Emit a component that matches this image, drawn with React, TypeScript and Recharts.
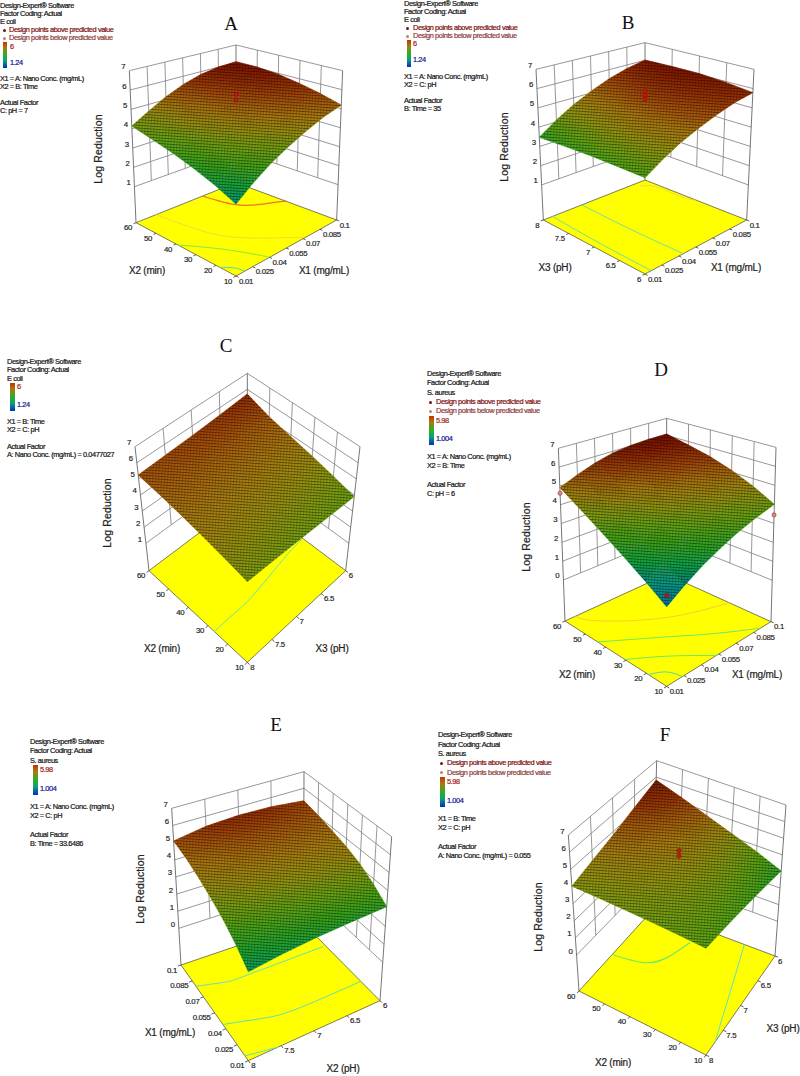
import { ScatterChart, Scatter, XAxis, YAxis } from "recharts";

// tick values
const conc = [0.01, 0.025, 0.04, 0.055, 0.07, 0.085, 0.1];
const time = [10, 20, 30, 40, 50, 60];
const phUp = [6, 6.5, 7, 7.5, 8];
const phDown = [8, 7.5, 7, 6.5, 6];
const zFrom1 = [1, 2, 3, 4, 5, 6, 7];
const zFrom0 = [0, 1, 2, 3, 4, 5, 6, 7];

// log reduction read per tick crossing, rows follow the left floor axis
const surfaceA = [
  [2.57, 3.2, 3.75, 4.2, 4.6, 4.95, 5.19],
  [3.0, 3.6, 4.15, 4.6, 5.0, 5.3, 5.5],
  [3.35, 3.95, 4.5, 4.95, 5.3, 5.6, 5.75],
  [3.65, 4.2, 4.75, 5.2, 5.55, 5.8, 5.95],
  [3.9, 4.45, 5.0, 5.4, 5.7, 5.95, 6.05],
  [4.14, 4.65, 5.15, 5.55, 5.85, 6.0, 6.05],
];
const surfaceB = [
  [3.79, 4.3, 4.75, 5.1, 5.4, 5.65, 5.79],
  [3.75, 4.35, 4.85, 5.25, 5.55, 5.8, 5.95],
  [3.7, 4.35, 4.85, 5.3, 5.65, 5.9, 6.05],
  [3.6, 4.25, 4.8, 5.25, 5.6, 5.9, 6.05],
  [3.47, 4.1, 4.65, 5.1, 5.5, 5.8, 6.01],
];
const surfaceC = [
  [4.14, 4.1, 4.05, 3.98, 3.9],
  [4.4, 4.38, 4.35, 4.3, 4.25],
  [4.65, 4.65, 4.62, 4.6, 4.58],
  [4.88, 4.9, 4.9, 4.88, 4.88],
  [5.08, 5.13, 5.15, 5.17, 5.2],
  [5.24, 5.33, 5.42, 5.55, 5.71],
];
const surfaceD = [
  [1.74, 2.3, 2.8, 3.2, 3.55, 3.8, 4.0],
  [2.4, 2.9, 3.35, 3.75, 4.1, 4.35, 4.6],
  [3.03, 3.5, 3.9, 4.3, 4.6, 4.85, 5.1],
  [3.65, 4.05, 4.45, 4.8, 5.1, 5.3, 5.5],
  [4.28, 4.65, 5.0, 5.35, 5.6, 5.75, 5.8],
  [4.91, 5.3, 5.65, 5.9, 6.03, 6.08, 6.08],
];
const surfaceE = [
  [2.46, 2.7, 2.88, 3.0, 3.1],
  [3.1, 3.3, 3.45, 3.6, 3.7],
  [3.65, 3.85, 4.0, 4.12, 4.2],
  [4.1, 4.3, 4.42, 4.52, 4.55],
  [4.5, 4.68, 4.8, 4.83, 4.8],
  [4.85, 5.05, 5.12, 5.1, 5.05],
  [5.1, 5.4, 5.5, 5.45, 5.25],
];
const surfaceF = [
  [3.56, 3.5, 3.4, 3.25, 3.03],
  [3.68, 3.75, 3.78, 3.75, 3.65],
  [3.78, 3.95, 4.1, 4.2, 4.2],
  [3.87, 4.12, 4.35, 4.6, 4.75],
  [3.95, 4.27, 4.6, 4.95, 5.3],
  [4.02, 4.4, 4.8, 5.3, 5.82],
];

// floor contours as [right axis value, left axis value]
const contoursA = [
  { color: "#e87818", width: 1.3, pts: [[0.07, 60], [0.072, 53.5], [0.0757, 46.5], [0.0847, 41], [0.0973, 36.5], [0.1, 35]] },
  { color: "#f0d040", width: 0.8, pts: [[0.028, 60], [0.034, 41.5], [0.045, 27.7], [0.066, 14.2], [0.071, 10]] },
  { color: "#80e850", width: 1, pts: [[0.01, 39], [0.025, 28], [0.036, 16], [0.04, 10]] },
  { color: "#50d8a0", width: 1, pts: [[0.01, 18], [0.0157, 14.5], [0.018, 10]] },
];
const contoursB = [
  { color: "#f0d040", width: 0.8, pts: [[0.091, 7.9], [0.0975, 7.7], [0.0975, 7.2], [0.1, 7]] },
  { color: "#70e0a0", width: 1, pts: [[0.044, 8], [0.043, 7], [0.044, 6]] },
  { color: "#70e0a0", width: 1, pts: [[0.018, 8], [0.016, 7], [0.0155, 6]] },
];
const contoursC = [
  { color: "#60e8a0", width: 1, pts: [[8, 26.8], [7.6, 27], [7.18, 27.5], [6.45, 30.5], [6.02, 31.8]] },
];
const contoursD = [
  { color: "#f0c040", width: 0.8, pts: [[0.019, 60], [0.0275, 52.75], [0.0613, 39], [0.1, 30]] },
  { color: "#70e860", width: 1, pts: [[0.01, 44], [0.028, 37.5], [0.0457, 30.4], [0.0685, 20], [0.091, 10]] },
  { color: "#70e860", width: 1, pts: [[0.01, 30.5], [0.0316, 22], [0.053, 10]] },
  { color: "#50d8b0", width: 1, pts: [[0.01, 19], [0.02, 15.7], [0.0235, 10]] },
];
const contoursE = [
  { color: "#60e0b0", width: 1, pts: [[8, 0.08], [7.6, 0.075], [7.26, 0.074], [6.04, 0.074]] },
  { color: "#60e0b0", width: 1, pts: [[8, 0.044], [7.52, 0.037], [7.04, 0.0325], [6, 0.0325]] },
  { color: "#60e0b0", width: 1, pts: [[8, 0.0145], [7.55, 0.01]] },
];
const contoursF = [
  { color: "#70e860", width: 1.2, pts: [[7.1, 60], [7, 49], [6.74, 43.25], [6.32, 40]] },
  { color: "#60e0c8", width: 1, pts: [[7.74, 10], [6.87, 16], [6, 22.5]] },
];

// design points as [right axis value, left axis value, log reduction]
const aboveA = [[0.055, 35, 5.96], [0.055, 35, 5.66]];
const aboveB = [[0.055, 7, 6.08], [0.055, 7, 5.86], [0.055, 7, 5.65]];
const aboveD = [[0.01, 10, 2.29]];
const belowD = [[0.01, 60, 4.61], [0.1, 10, 3.44]];
const aboveF = [[7, 35, 5.28], [7, 35, 4.97]];

const designEcoli = ["Design-Expert® Software", "Factor Coding: Actual", "E coli"];
const designAureus = ["Design-Expert® Software", "Factor Coding: Actual", "S. aureus"];
const FONT = "'Liberation Sans', Arial, sans-serif";

type Pt = [number, number];

const panels = [
  {
    key: "A", left: 0, top: 0, h: 320, zBase: -0.86, tone: 0, u: conc, v: time, zt: zFrom1, grid: surfaceA, contours: contoursA, above: aboveA, below: [],
    floor: { f: [708, 828], r: [1010, 660], l: [408, 668], b: [708, 548] },
    roof: { f: [708, 333], r: [1028, 212], l: [388, 212], b: [708, 135] },
    vTitle: "X2 (min)", uTitle: "X1 (mg/mL)", vAt: [147, 271], uAt: [324, 271], logAt: [98, 149], letterAt: [231, 23],
    legend: {
      x: 0, head: designEcoli, headY: [6, 14, 22], marks: [30, 38], markX: 4, markTextX: 9,
      bar: [3, 42, 4, 26], hi: "6", lo: "1.24", hiY: 47, loY: 63, barTextX: 10,
      factors: ["X1 = A: Nano Conc. (mg/mL)", "X2 = B: Time"], factorY: [79, 87],
      actual: ["Actual Factor", "C: pH = 7"], actualY: [103, 111],
    },
  },
  {
    key: "B", left: 400, top: 0, h: 320, zBase: -0.82, tone: 0, u: conc, v: phUp, zt: zFrom1, grid: surfaceB, contours: contoursB, above: aboveB, below: [],
    floor: { f: [735, 822], r: [1040, 660], l: [430, 660], b: [735, 540] },
    roof: { f: [735, 332], r: [1062, 208], l: [408, 208], b: [735, 128] },
    vTitle: "X3 (pH)", uTitle: "X1 (mg/mL)", vAt: [555, 268], uAt: [736, 268], logAt: [504, 147], letterAt: [628, 22],
    legend: {
      x: 404, head: designEcoli, headY: [4, 12, 20], marks: [28, 36], markX: 407, markTextX: 413,
      bar: [407, 40, 4, 27], hi: "6", lo: "1.24", hiY: 44, loY: 60, barTextX: 413,
      factors: ["X1 = A: Nano Conc. (mg/mL)", "X2 = C: pH"], factorY: [77, 85],
      actual: ["Actual Factor", "B: Time = 35"], actualY: [101, 109],
    },
  },
  {
    key: "C", left: 0, top: 330, h: 346, zBase: -0.7, tone: 0.12, u: phDown, v: time, zt: zFrom1, grid: surfaceC, contours: contoursC, above: [], below: [],
    floor: { f: [742, 997], r: [1037, 722], l: [447, 722], b: [742, 500] },
    roof: { f: [742, 612], r: [1080, 350], l: [405, 350], b: [742, 130] },
    vTitle: "X2 (min)", uTitle: "X3 (pH)", vAt: [162, 649], uAt: [332, 649], logAt: [107, 513], letterAt: [226, 345],
    legend: {
      x: 7, head: designEcoli, headY: [362, 370, 379], marks: [], markX: 0, markTextX: 0,
      bar: [10, 383, 5, 28], hi: "6", lo: "1.24", hiY: 387, loY: 404.5, barTextX: 17,
      factors: ["X1 = B: Time", "X2 = C: pH"], factorY: [422, 430],
      actual: ["Actual Factor", "A: Nano Conc. (mg/mL) = 0.0477027"], actualY: [447, 455],
    },
  },
  {
    key: "D", left: 400, top: 340, h: 370, zBase: -2.18, tone: 0.1, u: conc, v: time, zt: zFrom0, grid: surfaceD, contours: contoursD, above: aboveD, below: belowD,
    floor: { f: [800, 1039], r: [1113, 845], l: [495, 843], b: [800, 703] },
    roof: { f: [800, 480], r: [1128, 322], l: [475, 325], b: [800, 235] },
    vTitle: "X2 (min)", uTitle: "X1 (mg/mL)", vAt: [577, 675], uAt: [757, 675], logAt: [526, 537], letterAt: [661, 369],
    legend: {
      x: 427, head: designAureus, headY: [374, 383, 392.5], marks: [402, 411], markX: 430, markTextX: 436,
      bar: [429, 416, 5, 29], hi: "5.98", lo: "1.004", hiY: 421, loY: 439, barTextX: 436,
      factors: ["X1 = A: Nano Conc. (mg/mL)", "X2 = B: Time"], factorY: [457, 466],
      actual: ["Actual Factor", "C: pH = 6"], actualY: [484.5, 494],
    },
  },
  {
    key: "E", left: 0, top: 710, h: 366, zBase: -2.14, tone: 0.28, u: phDown, v: conc, zt: zFrom0, grid: surfaceE, contours: contoursE, above: [], below: [],
    floor: { f: [745, 1052], r: [1140, 872], l: [543, 765], b: [910, 640] },
    roof: { f: [745, 522], r: [1175, 380], l: [515, 295], b: [912, 185] },
    vTitle: "X1 (mg/mL)", uTitle: "X2 (pH)", vAt: [170, 1033], uAt: [343, 1069], logAt: [140, 889], letterAt: [276, 724],
    legend: {
      x: 30, head: designAureus, headY: [742, 751, 760.5], marks: [], markX: 0, markTextX: 0,
      bar: [33, 765, 5, 30], hi: "5.98", lo: "1.004", hiY: 770, loY: 788.5, barTextX: 40,
      factors: ["X1 = A: Nano Conc. (mg/mL)", "X2 = C: pH"], factorY: [807, 816],
      actual: ["Actual Factor", "B: Time = 33.6486"], actualY: [835, 844],
    },
  },
  {
    key: "F", left: 400, top: 710, h: 366, zBase: -2.09, tone: 0.35, u: phDown, v: time, zt: zFrom0, grid: surfaceF, contours: contoursF, above: aboveF, below: [],
    floor: { f: [918, 1035], r: [1125, 738], l: [537, 843], b: [758, 600] },
    roof: { f: [918, 520], r: [1158, 285], l: [505, 375], b: [770, 152] },
    vTitle: "X2 (min)", uTitle: "X3 (pH)", vAt: [613, 1063], uAt: [783, 1029], logAt: [538, 917], letterAt: [665, 734],
    legend: {
      x: 438, head: designAureus, headY: [735, 745, 754], marks: [763, 772.5], markX: 441, markTextX: 447,
      bar: [440, 777, 5, 30], hi: "5.98", lo: "1.004", hiY: 782, loY: 801, barTextX: 447,
      factors: ["X1 = B: Time", "X2 = C: pH"], factorY: [819, 828],
      actual: ["Actual Factor", "A: Nano Conc. (mg/mL) = 0.055"], actualY: [847, 856],
    },
  },
];

// colour ramp of the surface by log reduction
const ramp: [number, number[]][] = [
  [1.75, [0, 80, 180]],
  [2.05, [0, 144, 192]],
  [2.5, [8, 165, 130]],
  [3.0, [16, 172, 64]],
  [3.5, [56, 172, 24]],
  [4.0, [108, 172, 18]],
  [4.5, [156, 156, 16]],
  [5.0, [180, 128, 16]],
  [5.5, [172, 74, 8]],
  [6.0, [140, 26, 0]],
  [6.3, [96, 10, 0]],
];

function rampColor(z: number) {
  if (z <= ramp[0][0]) return `rgb(${ramp[0][1].join(",")})`;
  for (let i = 1; i < ramp.length; i++) {
    if (z <= ramp[i][0]) {
      const k = (z - ramp[i - 1][0]) / (ramp[i][0] - ramp[i - 1][0]);
      const c = ramp[i][1].map((n, j) => Math.round(ramp[i - 1][1][j] + (n - ramp[i - 1][1][j]) * k));
      return `rgb(${c.join(",")})`;
    }
  }
  return `rgb(${ramp[ramp.length - 1][1].join(",")})`;
}

const frac = (ticks: number[], val: number) =>
  (val - ticks[0]) / (ticks[ticks.length - 1] - ticks[0]);

function bilerp(q: any, s: number, t: number): Pt {
  const at = (i: number) =>
    q.f[i] * (1 - s) * (1 - t) + q.r[i] * s * (1 - t) + q.l[i] * (1 - s) * t + q.b[i] * s * t;
  return [at(0), at(1)];
}

// box projection, returns the position in the panel's data space
function project(p: any, s: number, t: number, z: number) {
  const h = (z - p.zBase) / (7 - p.zBase);
  const a = bilerp(p.floor, s, t);
  const b = bilerp(p.roof, s, t);
  return { x: a[0] + (b[0] - a[0]) * h, y: a[1] + (b[1] - a[1]) * h };
}

const Nothing = () => <g />;

function segmentLine(stroke: string, width: number) {
  return (props: any) => {
    let d = "";
    for (let i = 0; i + 1 < props.points.length; i += 2) {
      const a = props.points[i];
      const b = props.points[i + 1];
      d += `M${a.x} ${a.y}L${b.x} ${b.y}`;
    }
    return <path d={d} stroke={stroke} strokeWidth={width} fill="none" />;
  };
}

function surfaceLine(p: any) {
  const nv = p.grid.length;
  const nu = p.grid[0].length;
  return (props: any) => {
    const pts = props.points;
    const defs: any[] = [];
    const quads: any[] = [];
    for (let r = nv - 2; r >= 0; r--) {
      for (let c = nu - 2; c >= 0; c--) {
        const i00 = r * nu + c;
        const i10 = i00 + 1;
        const i01 = i00 + nu;
        const i11 = i01 + 1;
        const [a, b, d, e] = [pts[i00], pts[i10], pts[i01], pts[i11]];
        const z00 = p.grid[r][c];
        const z10 = p.grid[r][c + 1];
        const z01 = p.grid[r + 1][c];
        const z11 = p.grid[r + 1][c + 1];
        const zc = (z00 + z10 + z01 + z11) / 4;
        const e1x = (b.x + e.x - a.x - d.x) / 2;
        const e1y = (b.y + e.y - a.y - d.y) / 2;
        const e2x = (d.x + e.x - a.x - b.x) / 2;
        const e2y = (d.y + e.y - a.y - b.y) / 2;
        const dz1 = (z10 + z11 - z00 - z01) / 2;
        const dz2 = (z01 + z11 - z00 - z10) / 2;
        const det = e1x * e2y - e1y * e2x;
        const gx = (dz1 * e2y - dz2 * e1y) / det;
        const gy = (e1x * dz2 - e2x * dz1) / det;
        const g2 = gx * gx + gy * gy;
        const span = Math.max(Math.abs(z00 - z11), Math.abs(z10 - z01), 0.02);
        const cx = (a.x + b.x + d.x + e.x) / 4;
        const cy = (a.y + b.y + d.y + e.y) / 4;
        const id = `q${p.key}${r}-${c}`;
        defs.push(
          <linearGradient key={id} id={id} gradientUnits="userSpaceOnUse"
            x1={cx - (gx / g2) * span} y1={cy - (gy / g2) * span}
            x2={cx + (gx / g2) * span} y2={cy + (gy / g2) * span}>
            <stop offset="0" stopColor={rampColor(zc - span + p.tone)} />
            <stop offset="0.5" stopColor={rampColor(zc + p.tone)} />
            <stop offset="1" stopColor={rampColor(zc + span + p.tone)} />
          </linearGradient>
        );
        quads.push(
          <polygon key={id} points={`${a.x},${a.y} ${b.x},${b.y} ${e.x},${e.y} ${d.x},${d.y}`}
            fill={`url(#${id})`} stroke={`url(#${id})`} strokeWidth={0.7} />
        );
      }
    }
    // outline used for the fine mesh on top
    const rim: string[] = [];
    for (let c = 0; c < nu; c++) rim.push(`${pts[c].x},${pts[c].y}`);
    for (let r = 1; r < nv; r++) rim.push(`${pts[r * nu + nu - 1].x},${pts[r * nu + nu - 1].y}`);
    for (let c = nu - 2; c >= 0; c--) rim.push(`${pts[(nv - 1) * nu + c].x},${pts[(nv - 1) * nu + c].y}`);
    for (let r = nv - 2; r > 0; r--) rim.push(`${pts[r * nu].x},${pts[r * nu].y}`);
    return (
      <g>
        <defs>
          {defs}
          <pattern id={`mesh${p.key}`} width={3} height={2.8} patternUnits="userSpaceOnUse" patternTransform="rotate(4)">
            <rect x={0} y={0} width={3} height={1} fill="#000" opacity={0.42} />
            <rect x={0} y={0} width={1.2} height={2.8} fill="#000" opacity={0.2} />
          </pattern>
        </defs>
        {quads}
        <polygon points={rim.join(" ")} fill={`url(#mesh${p.key})`} />
      </g>
    );
  };
}

function wallSegments(p: any) {
  const zLow = p.zt[0];
  const out: { x: number; y: number }[] = [];
  const add = (a: any, b: any) => out.push(a, b);
  p.zt.forEach((z: number) => {
    add(project(p, 0, 1, z), project(p, 1, 1, z));
    add(project(p, 1, 0, z), project(p, 1, 1, z));
  });
  p.u.forEach((val: number, i: number) => {
    if (i === 0 || i === p.u.length - 1) return;
    const s = frac(p.u, val);
    add(project(p, s, 1, zLow), project(p, s, 1, 7));
  });
  p.v.forEach((val: number, i: number) => {
    if (i === 0 || i === p.v.length - 1) return;
    const t = frac(p.v, val);
    add(project(p, 1, t, zLow), project(p, 1, t, 7));
  });
  return out;
}

function cornerSegments(p: any) {
  return [
    project(p, 0, 1, p.zBase), project(p, 0, 1, 7),
    project(p, 1, 0, p.zBase), project(p, 1, 0, 7),
    project(p, 1, 1, p.zBase), project(p, 1, 1, 7),
  ];
}

function floorTicks(p: any) {
  const out: { x: number; y: number }[] = [];
  p.u.forEach((val: number) => {
    const s = frac(p.u, val);
    out.push(project(p, s, 0, p.zBase), project(p, s, -0.025, p.zBase));
  });
  p.v.forEach((val: number) => {
    const t = frac(p.v, val);
    out.push(project(p, 0, t, p.zBase), project(p, -0.025, t, p.zBase));
  });
  return out;
}

const tickText = (anchor: string, dx: number, dy: number) => (props: any) => (
  <text x={props.cx + dx} y={props.cy + dy} textAnchor={anchor} dominantBaseline="central"
    fontFamily={FONT} fontSize={7.8} letterSpacing={-0.3} fill="#1c1c1c" stroke="#1c1c1c" strokeWidth={0.18}>
    {props.payload.label}
  </text>
);

const dot = (fill: string) => (props: any) => (
  <circle cx={props.cx} cy={props.cy} r={2.1} fill={fill} stroke="#7a1010" strokeWidth={0.5} />
);

function Panel3D({ p }: { p: any }) {
  const H = p.h * 3;
  const vertices = p.grid.flatMap((row: number[], r: number) =>
    row.map((z, c) => project(p, frac(p.u, p.u[c]), frac(p.v, p.v[r]), z))
  );
  const floorData = [
    project(p, 0, 0, p.zBase),
    project(p, 1, 0, p.zBase),
    project(p, 1, 1, p.zBase),
    project(p, 0, 1, p.zBase),
  ];
  const uLabels = p.u.map((val: number) => ({ ...project(p, frac(p.u, val), 0, p.zBase), label: String(val) }));
  const vLabels = p.v.map((val: number) => ({ ...project(p, 0, frac(p.v, val), p.zBase), label: String(val) }));
  const zLabels = p.zt.map((z: number) => ({ ...project(p, 0, 1, z), label: String(z) }));
  const marks = (rows: number[][]) =>
    rows.map((m) => project(p, frac(p.u, m[0]), frac(p.v, m[1]), m[2]));

  return (
    <div style={{ position: "absolute", left: p.left, top: p.top }}>
      <ScatterChart width={400} height={p.h} margin={{ top: 0, right: 0, bottom: 0, left: 0 }} style={{ overflow: "visible" }}>
        <XAxis type="number" dataKey="x" domain={[0, 1200]} hide allowDataOverflow />
        <YAxis type="number" dataKey="y" domain={[0, H]} reversed hide allowDataOverflow />
        <Scatter data={wallSegments(p)} shape={Nothing} line={segmentLine("#7d7d7d", 0.8)} isAnimationActive={false} />
        <Scatter data={cornerSegments(p)} shape={Nothing} line={segmentLine("#666", 0.9)} isAnimationActive={false} />
        <Scatter data={floorData} shape={Nothing} isAnimationActive={false}
          line={(q: any) => (
            <polygon points={q.points.map((a: any) => `${a.x},${a.y}`).join(" ")} fill="#ffff00" stroke="#444" strokeWidth={0.7} />
          )} />
        {p.contours.map((c: any, i: number) => (
          <Scatter key={i} shape={Nothing} isAnimationActive={false} lineJointType="natural"
            data={c.pts.map((m: number[]) => project(p, frac(p.u, m[0]), frac(p.v, m[1]), p.zBase))}
            line={{ stroke: c.color, strokeWidth: c.width }} />
        ))}
        <Scatter data={floorTicks(p)} shape={Nothing} line={segmentLine("#333", 0.8)} isAnimationActive={false} />
        <Scatter data={vertices} shape={Nothing} line={surfaceLine(p)} isAnimationActive={false} />
        <Scatter data={marks(p.below)} shape={dot("#e08a8a")} isAnimationActive={false} />
        <Scatter data={marks(p.above)} shape={dot("#c81414")} isAnimationActive={false} />
        <Scatter data={uLabels} shape={tickText("start", 3, 5)} isAnimationActive={false} />
        <Scatter data={vLabels} shape={tickText("end", -4, 5)} isAnimationActive={false} />
        <Scatter data={zLabels} shape={tickText("end", -4, -4)} isAnimationActive={false} />
      </ScatterChart>
    </div>
  );
}

function Label(props: { x: number; y: number; text: string; size?: number; color?: string; center?: boolean; rotate?: boolean; font?: string; spacing?: number; heavy?: boolean }) {
  const { x, y, text, size = 7.4, color = "#111", center, rotate, font = FONT, spacing = -0.42, heavy } = props;
  const shift = rotate ? "translate(-50%,-50%) rotate(-90deg)" : center ? "translate(-50%,-50%)" : "translateY(-50%)";
  return (
    <div style={{
      position: "absolute", left: x, top: y, transform: shift, whiteSpace: "nowrap",
      fontFamily: font, fontSize: size, letterSpacing: spacing, color, lineHeight: 1,
      WebkitTextStroke: heavy === false ? undefined : `0.2px ${color}`,
    }}>
      {text}
    </div>
  );
}

function Legend({ g }: { g: any }) {
  const all = [...g.head.map((t: string, i: number) => [t, g.headY[i]]),
    ...g.factors.map((t: string, i: number) => [t, g.factorY[i]]),
    ...g.actual.map((t: string, i: number) => [t, g.actualY[i]])];
  return (
    <>
      {all.map((row: any) => <Label key={row[0] + row[1]} x={g.x} y={row[1]} text={row[0]} />)}
      {g.marks.length > 0 && (
        <>
          <div style={{ position: "absolute", left: g.markX - 1.5, top: g.marks[0] - 1.5, width: 3, height: 3, borderRadius: 2, background: "#7a1010" }} />
          <div style={{ position: "absolute", left: g.markX - 1.5, top: g.marks[1] - 1.5, width: 3, height: 3, borderRadius: 2, background: "#c08080" }} />
          <Label x={g.markTextX} y={g.marks[0]} text="Design points above predicted value" color="#7a0c0c" />
          <Label x={g.markTextX} y={g.marks[1]} text="Design points below predicted value" color="#8c3a3a" />
        </>
      )}
      <div style={{
        position: "absolute", left: g.bar[0], top: g.bar[1], width: g.bar[2], height: g.bar[3],
        background: "linear-gradient(to bottom,#c83200,#a87a10 22%,#28b028 50%,#10a078 72%,#0030c0)",
      }} />
      <Label x={g.barTextX} y={g.hiY} text={g.hi} color="#a01818" />
      <Label x={g.barTextX} y={g.loY} text={g.lo} color="#101090" />
    </>
  );
}

export default function App() {
  return (
    <div style={{ position: "absolute", left: 0, top: 0, width: 800, height: 1076, overflow: "hidden", background: "#fff" }}>
      {panels.map((p) => <Panel3D key={p.key} p={p} />)}
      {panels.map((p) => (
        <div key={p.key}>
          <Legend g={p.legend} />
          <Label x={p.letterAt[0]} y={p.letterAt[1]} text={p.key} size={19} center font="'Liberation Serif', serif" spacing={0} heavy={false} />
          <Label x={p.logAt[0]} y={p.logAt[1]} text="Log Reduction" size={10.5} rotate spacing={0.15} color="#222" />
          <Label x={p.vAt[0]} y={p.vAt[1]} text={p.vTitle} size={10} center spacing={-0.2} color="#222" />
          <Label x={p.uAt[0]} y={p.uAt[1]} text={p.uTitle} size={10} center spacing={-0.2} color="#222" />
        </div>
      ))}
    </div>
  );
}
